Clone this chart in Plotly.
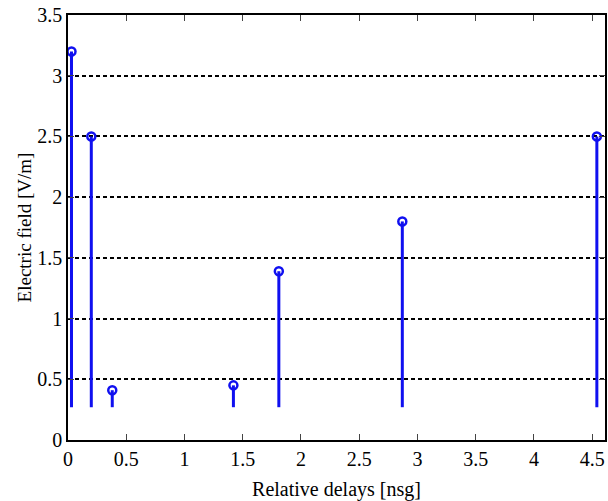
import plotly.graph_objects as go

delays = [0.03, 0.20, 0.38, 1.42, 1.81, 2.87, 4.54]
amplitudes = [3.20, 2.50, 0.41, 0.45, 1.39, 1.80, 2.50]
baseline = 0.27

xticks = [0, 0.5, 1, 1.5, 2, 2.5, 3, 3.5, 4, 4.5]
yticks = [0, 0.5, 1, 1.5, 2, 2.5, 3, 3.5]

stem_x, stem_y = [], []
for d, a in zip(delays, amplitudes):
    stem_x += [d, d, None]
    stem_y += [baseline, a, None]

blue = "#1010f0"
fig = go.Figure()
fig.add_trace(go.Scatter(x=stem_x, y=stem_y, mode="lines",
                         line=dict(color=blue, width=3), showlegend=False))
fig.add_trace(go.Scatter(x=delays, y=amplitudes, mode="markers",
                         marker=dict(symbol="circle-open", size=8, color=blue,
                                     line=dict(width=2.5, color=blue)),
                         showlegend=False, cliponaxis=False))

font = dict(family="Liberation Serif, Times New Roman, serif", color="black")
fig.update_layout(
    width=608, height=501,
    margin=dict(l=68, r=3, t=15, b=61),
    paper_bgcolor="white", plot_bgcolor="white",
    font=dict(**font, size=19),
    xaxis=dict(range=[0, 4.61], tickvals=xticks, ticks="inside", ticklen=6,
               showline=True, linecolor="black", linewidth=1.5, mirror="ticks",
               showgrid=False, zeroline=False, tickfont=dict(size=20),
               ticklabeloverflow="allow", automargin=False,
               title=dict(text="Relative delays [nsg]", font=dict(size=20), standoff=13)),
    yaxis=dict(range=[0, 3.5], tickvals=yticks, ticks="inside", ticklen=6,
               showline=True, linecolor="black", linewidth=1.5, mirror="ticks",
               showgrid=True, gridcolor="black", griddash="4px,3px", gridwidth=1.5,
               zeroline=False, tickfont=dict(size=20), ticklabeloverflow="allow",
               automargin=False,
               title=dict(text="Electric field [V/m]", font=dict(size=19), standoff=1)),
)
fig.write_html("out.html", config={"displayModeBar": False},
               post_script="document.body.style.margin='0';document.body.style.overflow='hidden';")
